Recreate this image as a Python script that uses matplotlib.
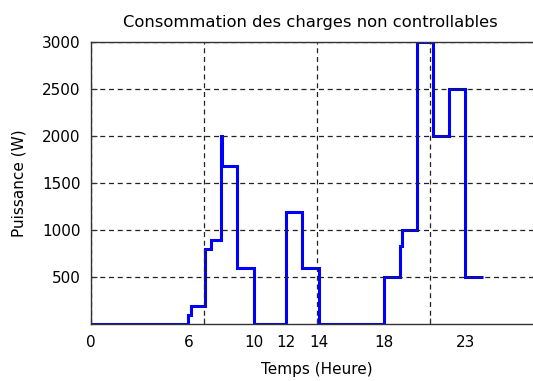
import numpy as np
import matplotlib.pyplot as plt

# step edges (hours) and power level held between consecutive edges (W)
edges = [0, 6.0, 6.17, 7.0, 7.4, 8.0, 8.07, 9.0, 10.0, 12.0, 13.0, 14.0,
         18.0, 19.0, 19.1, 20.0, 21.0, 22.0, 23.0, 24.05]
puissance = [0, 100, 200, 800, 900, 2000, 1680, 600, 0, 1200, 600, 0,
             500, 830, 1000, 3000, 2000, 2500, 500]

heure_ticks = [0, 6, 10, 12, 14, 18, 23]
heure_labels = ['0', '6', '10', '12', '14', '18', '23']
y_ticks = [500, 1000, 1500, 2000, 2500, 3000]

plt.rcParams['font.family'] = ['DejaVu Sans']

fig = plt.figure(figsize=(5.33, 3.81), dpi=100)
ax = fig.add_axes([0.1698, 0.1488, 0.8495, 0.7402])

ax.stairs(puissance, edges, baseline=None, color=(0, 0, 1), linewidth=2.2)

# time axis is in seconds underneath: grid every 25000 s
grid_pos = np.arange(0, 100001, 25000) / 3600.0
ax.set_xlim(0, 100000 / 3600.0)
ax.set_ylim(0, 3000)
ax.xaxis.remove_overlapping_locs = False
ax.set_xticks(grid_pos)
ax.set_xticklabels([])
ax.set_xticks(heure_ticks, minor=True)
ax.set_xticklabels(heure_labels, minor=True)
ax.set_yticks(y_ticks)
ax.set_yticklabels([str(v) for v in y_ticks])

ax.tick_params(axis='both', which='major', direction='in', length=4, width=0.8,
               colors='#333333', labelcolor='black', labelsize=11, pad=7)
ax.tick_params(axis='x', which='minor', length=0, labelsize=11, pad=7.5)

ax.grid(True, which='major', linestyle=(0, (4, 3)), color='#222222', linewidth=0.9)
for s in ax.spines.values():
    s.set_color('#333333')
    s.set_linewidth(1.0)

ax.set_title('Consommation des charges non controllables', fontsize=11.8, x=0.485, pad=11)
ax.set_xlabel('Temps (Heure)', fontsize=11, labelpad=8.5)
ax.set_ylabel('Puissance (W)', fontsize=11, labelpad=11)

fig.savefig('out.png', dpi=100)
